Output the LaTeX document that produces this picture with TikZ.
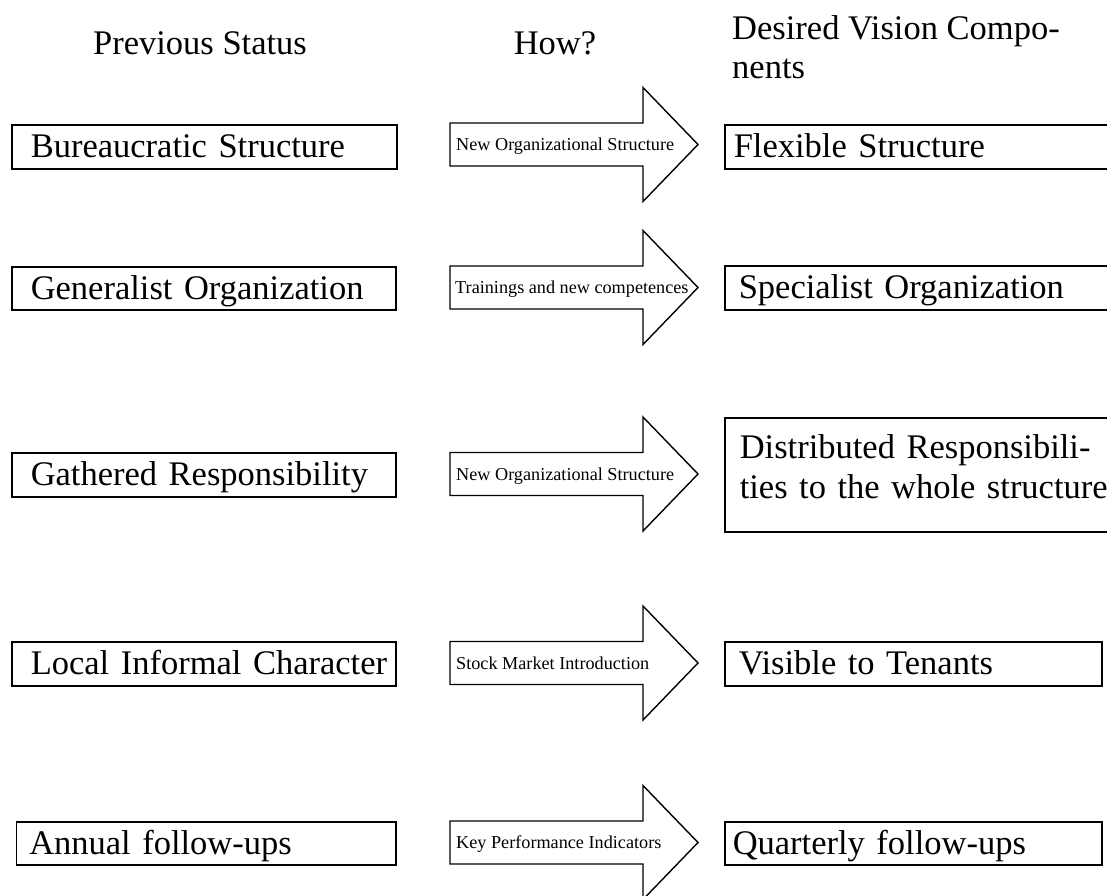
\documentclass[tikz,border=0pt]{standalone}
\usepackage{fontspec}
\setmainfont{Liberation Serif}
\newcommand\bigfont{\fontsize{34.5}{40}\selectfont}
\newcommand\headfont{\fontsize{34.5}{39}\selectfont}
\newcommand\smallfont{\fontsize{18.2}{21}\selectfont}
\newcommand\hwarrow[1]{\draw[arrowshape] (450,{#1-21.5}) -- (643,{#1-21.5}) -- (643,{#1-57}) -- (698,#1) -- (643,{#1+57}) -- (643,{#1+21.5}) -- (450,{#1+21.5}) -- cycle;}
\begin{document}
\begin{tikzpicture}[x=1pt,y=-1pt,
  boxline/.style={draw, line width=1.5pt, anchor=north west, inner ysep=0pt, align=left, font=\bigfont},
  onebox/.style={boxline, text height=22pt, text depth=0pt},
  headtext/.style={inner sep=0pt, font=\headfont},
  howlabel/.style={inner sep=0pt, anchor=base west, font=\smallfont},
  arrowshape/.style={draw, line width=1.4pt, line join=miter},
]
\useasboundingbox (0,0) rectangle (1107,895);
\clip (0,0) rectangle (1107,895);

% headers
\node[headtext, anchor=base] (c1) at (200,54) {Previous Status};
\node[headtext, anchor=base] (c2) at (555,54) {How?};
\node[headtext, anchor=north west, align=left] (c3) at (732,15) {Desired Vision Compo-\\nents};

% left boxes
\node[onebox, minimum height=44pt, text width=347pt, inner xsep=19pt] (p1) at (11,124) {\mbox{Bureaucratic Structure}};
\node[onebox, minimum height=43pt, text width=346pt, inner xsep=19pt] (p2) at (11,266) {\mbox{Generalist Organization}};
\node[onebox, minimum height=44pt, text width=346pt, inner xsep=19pt] (p3) at (11,452) {\mbox{Gathered Responsibility}};
\node[onebox, minimum height=44pt, text width=346pt, inner xsep=19pt] (p4) at (11,641) {\mbox{Local Informal Character}};
\node[onebox, minimum height=43pt, text width=353.5pt, inner xsep=13pt] (p5) at (15.5,821) {\mbox{Annual follow-ups}};

% arrows
\hwarrow{144.5}
\node[howlabel] (h1) at (456,150.5) {New Organizational Structure};
\hwarrow{287.5}
\node[howlabel] (h2) at (455,293.5) {Trainings and new competences};
\hwarrow{474}
\node[howlabel] (h3) at (456,480) {New Organizational Structure};
\hwarrow{663}
\node[howlabel] (h4) at (456,669) {Stock Market Introduction};
\hwarrow{842.5}
\node[howlabel] (h5) at (456,848.5) {Key Performance Indicators};

% right boxes
\node[onebox, minimum height=44pt, text width=382pt, inner xsep=9pt] (d1) at (724,124) {\mbox{Flexible Structure}};
\node[onebox, minimum height=44pt, text width=372pt, inner xsep=14pt] (d2) at (724,265) {\mbox{Specialist Organization}};
\node[boxline, minimum height=114pt, text width=370pt, inner xsep=15pt] (d3) at (724,417) {Distributed Responsibili-\\ties to the whole structure\rule[-16pt]{0pt}{16pt}};
\node[onebox, minimum height=44pt, text width=349pt, inner xsep=14pt] (d4) at (724,641) {\mbox{Visible to Tenants}};
\node[onebox, minimum height=43pt, text width=361pt, inner xsep=8pt] (d5) at (724,821) {\mbox{Quarterly follow-ups}};
\end{tikzpicture}
\end{document}
